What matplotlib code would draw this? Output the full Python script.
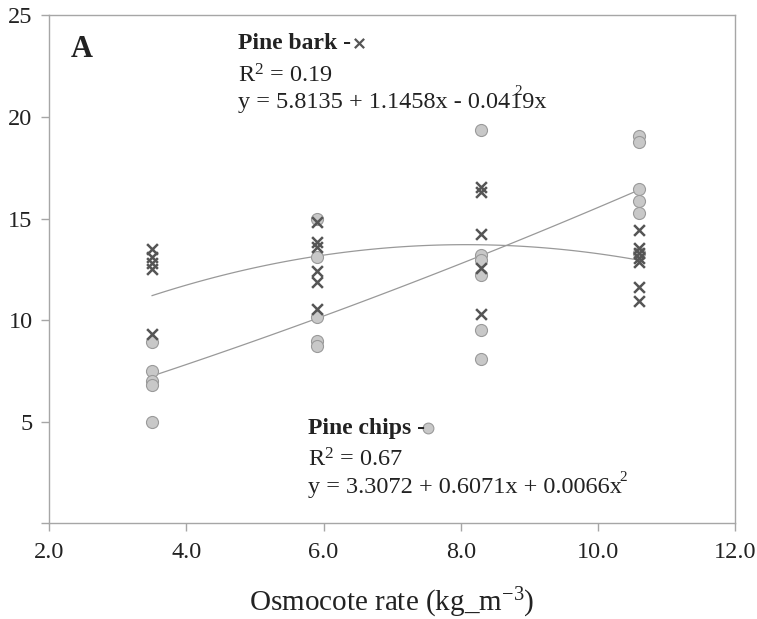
import numpy as np
import matplotlib
matplotlib.use('Agg')
import matplotlib.pyplot as plt
from matplotlib.ticker import FuncFormatter

plt.rcParams['font.family'] = ['Liberation Serif', 'DejaVu Serif']
plt.rcParams['mathtext.fontset'] = 'custom'
plt.rcParams['mathtext.rm'] = 'Liberation Serif'
plt.rcParams['mathtext.it'] = 'Liberation Serif:italic'

# ---------------------------------------------------------------------------
# data
osmocote_rates = [3.5, 5.9, 8.3, 10.6]

# pine bark (crosses)
bark_x = [3.5] * 5 + [5.9] * 6 + [8.3] * 5 + [10.6] * 7
bark_y = [13.5, 13.1, 12.8, 12.5, 9.3,
          14.85, 13.85, 13.6, 12.4, 11.85, 10.55,
          16.55, 16.3, 14.25, 12.55, 10.3,
          14.45, 13.55, 13.3, 13.05, 12.85, 11.65, 10.95]

# pine chips (circles)
chips_x = [3.5] * 5 + [5.9] * 5 + [8.3] * 6 + [10.6] * 6
chips_y = [8.9, 7.5, 7.0, 6.8, 5.0,
           15.0, 13.1, 10.15, 8.95, 8.7,
           19.35, 13.2, 12.95, 12.2, 9.5, 8.1,
           19.05, 18.75, 16.45, 15.85, 15.25, 13.3]

# trend curves as drawn (values at the four rates)
bark_curve = [11.2, 13.15, 13.7, 12.95]
chips_curve = [7.25, 10.05, 13.2, 16.4]

x_ticks = [2.0, 4.0, 6.0, 8.0, 10.0, 12.0]
y_ticks = [0, 5, 10, 15, 20, 25]

# ---------------------------------------------------------------------------
fig = plt.figure(figsize=(7.57, 6.19), dpi=100)
ax = fig.add_axes([0.065, 0.155, 0.906, 0.82])

xs = np.linspace(osmocote_rates[0], osmocote_rates[-1], 100)
bark_fit = np.polyfit(osmocote_rates, bark_curve, 2)
chips_fit = np.polyfit(osmocote_rates, chips_curve, 2)
ax.plot(xs, np.polyval(bark_fit, xs), color='#999999', lw=0.9, zorder=2)
ax.plot(xs, np.polyval(chips_fit, xs), color='#999999', lw=0.9, zorder=2)

ax.scatter(chips_x, chips_y, marker='o', s=75, facecolor='#c8c8c8',
           edgecolor='#9a9a9a', linewidth=0.8, zorder=3)
ax.scatter(bark_x, bark_y, marker='x', s=60, color='#555555',
           linewidth=1.8, zorder=4)

ax.set_xlim(2, 12)
ax.set_ylim(0, 25)
ax.set_xticks(x_ticks)
ax.set_yticks(y_ticks)
ax.xaxis.set_major_formatter(FuncFormatter(lambda v, p: f'{v:.1f}'))
ax.yaxis.set_major_formatter(FuncFormatter(lambda v, p: '' if v == 0 else f'{v:.0f}'))

for sp in ax.spines.values():
    sp.set_color('#a6a6a6')
    sp.set_linewidth(1.0)
ax.tick_params(axis='both', direction='out', length=6, width=1.0,
               color='#a6a6a6', labelsize=17.5, labelcolor='#222222')
ax.tick_params(axis='x', pad=8)
ax.tick_params(axis='y', pad=6)

ax.set_xlabel(r'Osmocote rate (kg_m$^{\mathrm{-3}}$)', fontsize=21,
              color='#222222', labelpad=16)

# annotations
txt = '#222222'
ax.text(2.31, 23.3, 'A', fontsize=22, fontweight='bold', color=txt,
        va='center', ha='left')

ax.text(4.755, 23.62, 'Pine bark -', fontsize=17, fontweight='bold',
        color=txt, va='center', ha='left')
ax.scatter([0.452], [0.945], marker='x', s=45, color='#555555',
           linewidth=1.6, transform=ax.transAxes, clip_on=False)
ax.text(4.755, 22.04, r'R$^2$ = 0.19', fontsize=17.5, color=txt,
        va='center', ha='left')
ax.text(4.755, 20.71, 'y = 5.8135 + 1.1458x - 0.0419x', fontsize=17.5,
        color=txt, va='center', ha='left')
ax.text(8.78, 21.25, '2', fontsize=11, color=txt, va='center', ha='left')

ax.text(5.775, 4.68, 'Pine chips -', fontsize=17, fontweight='bold',
        color=txt, va='center', ha='left')
ax.scatter([0.553], [0.187], marker='o', s=60, facecolor='#c8c8c8',
           edgecolor='#9a9a9a', linewidth=0.8, transform=ax.transAxes,
           clip_on=False)
ax.text(5.775, 3.11, r'R$^2$ = 0.67', fontsize=17.5, color=txt,
        va='center', ha='left')
ax.text(5.775, 1.73, 'y = 3.3072 + 0.6071x + 0.0066x', fontsize=17.5,
        color=txt, va='center', ha='left')
ax.text(10.31, 2.22, '2', fontsize=11, color=txt, va='center', ha='left')

fig.savefig('out.png', dpi=100)
